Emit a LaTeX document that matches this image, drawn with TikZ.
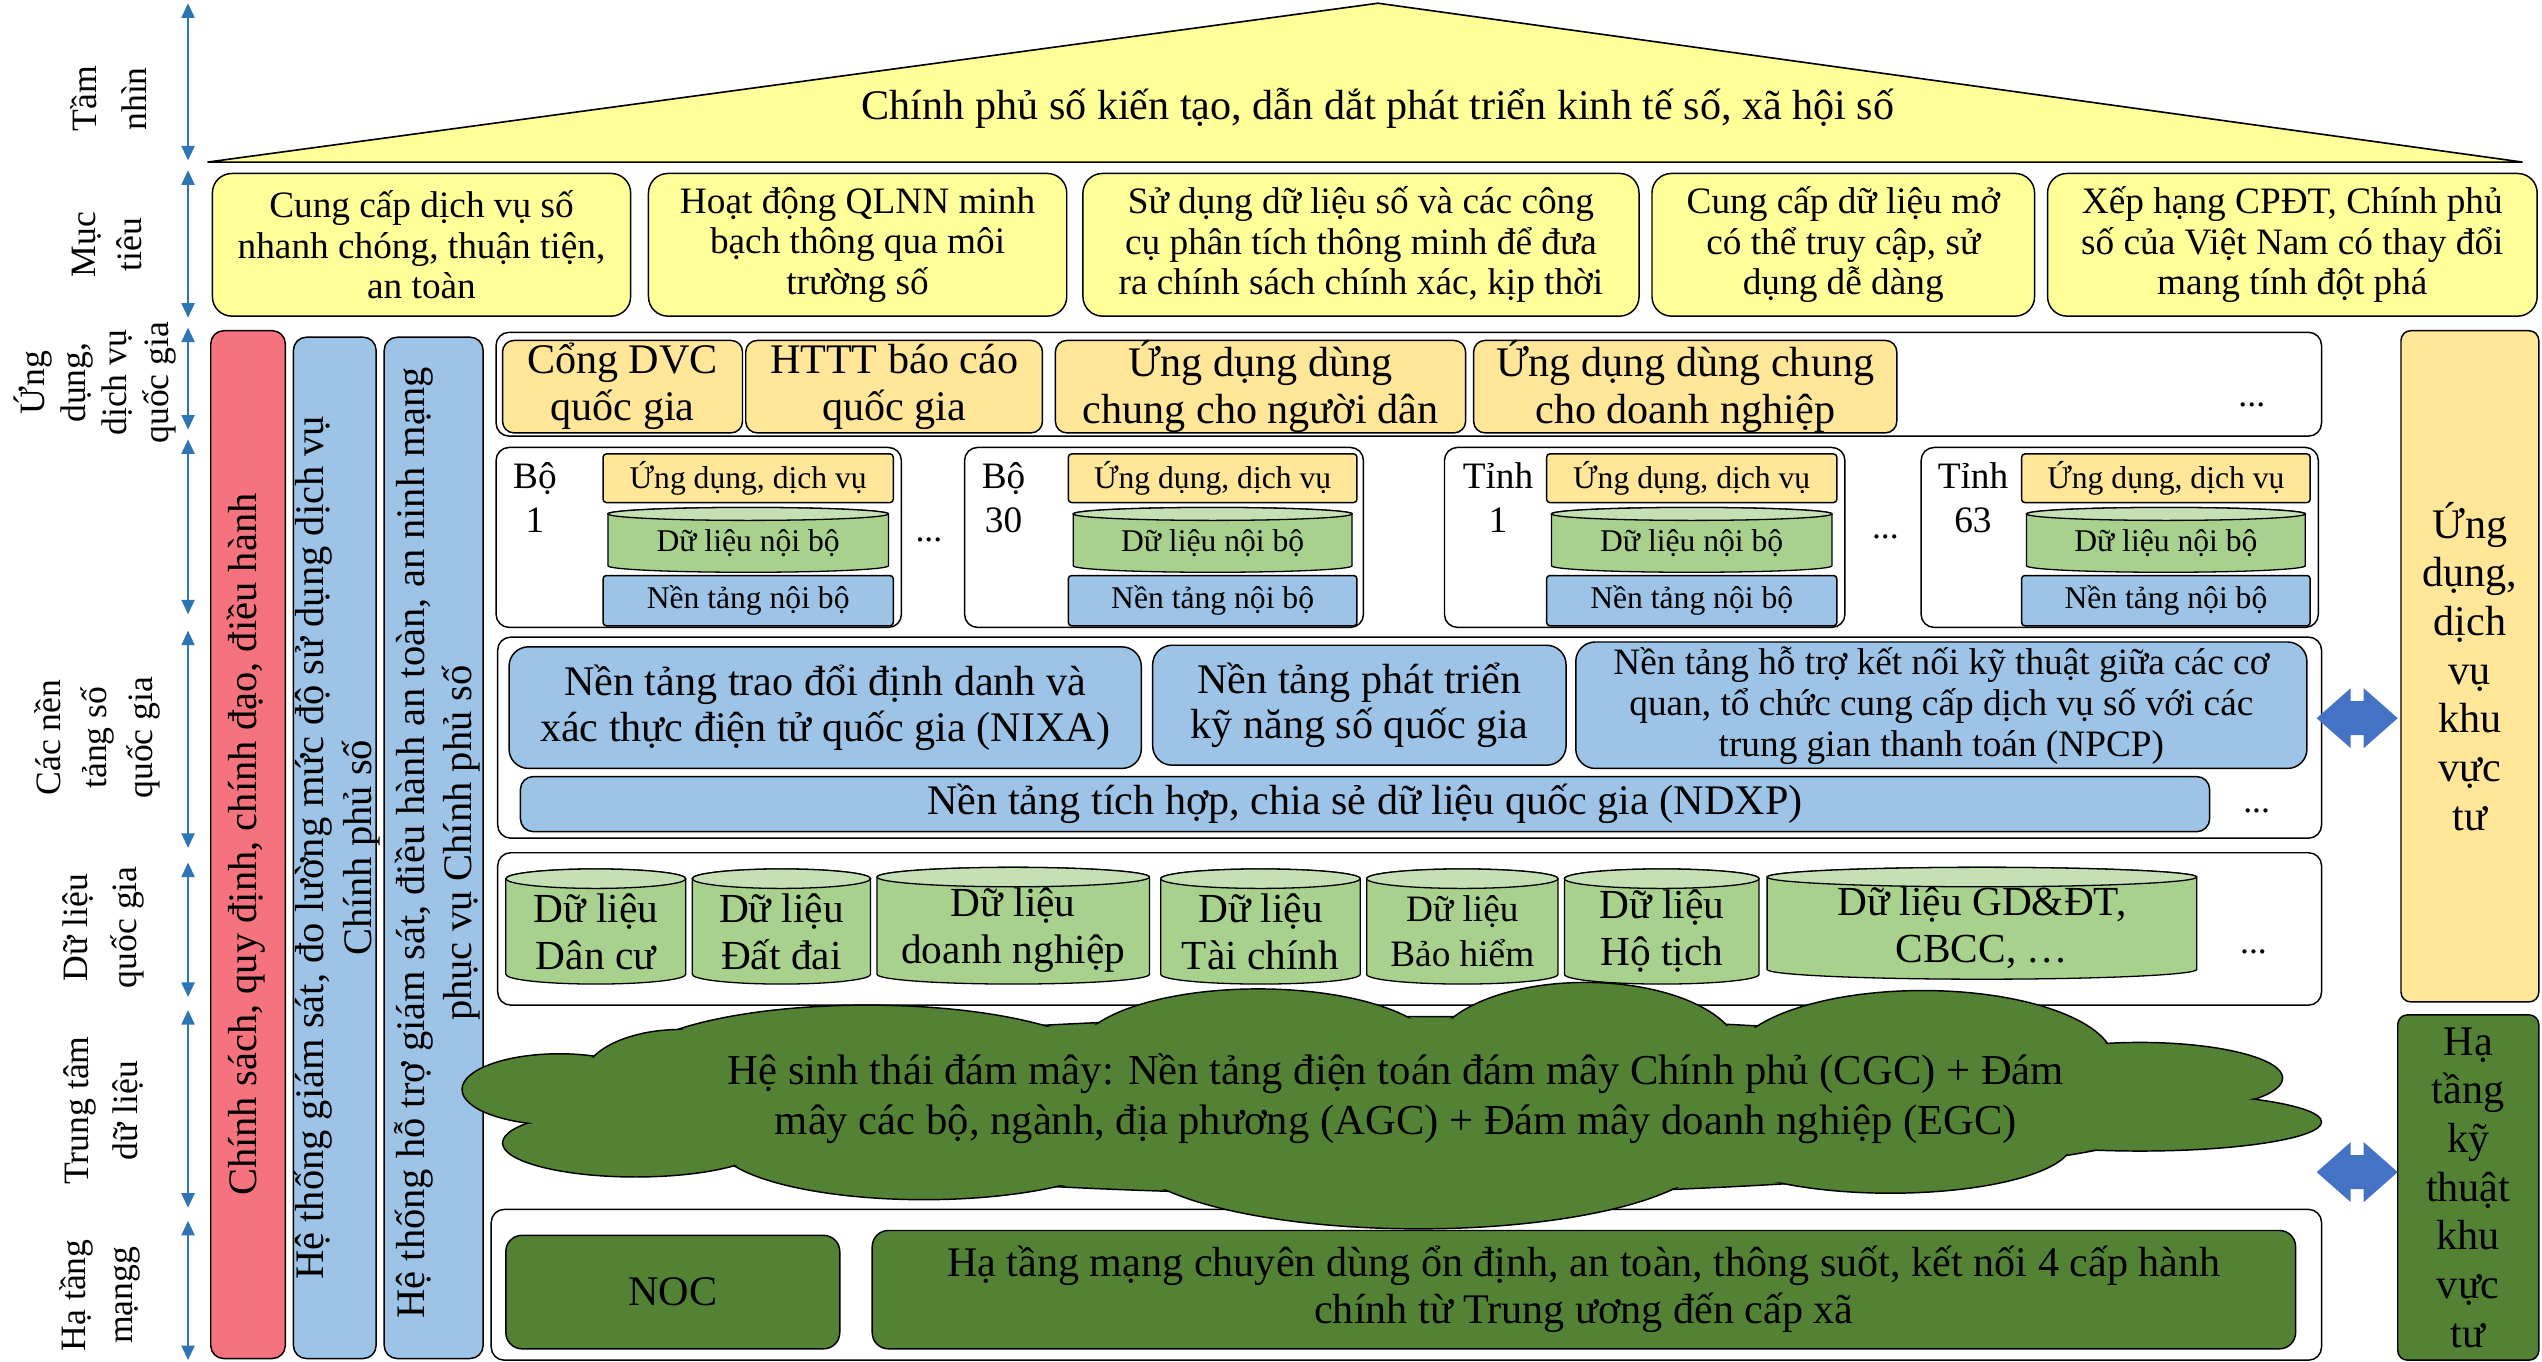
\documentclass[tikz,border=0pt]{standalone}
\usepackage{fontspec}
\setmainfont{Liberation Serif}
\usetikzlibrary{arrows.meta}
\definecolor{roofY}{HTML}{FFFF99}
\definecolor{redbar}{HTML}{F4737E}
\definecolor{lblue}{HTML}{9DC3E6}
\definecolor{lorange}{HTML}{FFE699}
\definecolor{cylG}{HTML}{A9D18E}
\definecolor{cylT}{HTML}{C5E0B4}
\definecolor{dkG}{HTML}{548235}
\definecolor{arrB}{HTML}{4472C4}
\definecolor{lblB}{HTML}{2E75B6}
\newcommand\fsz[2]{\fontsize{#1}{#2}\selectfont}
% style, x1, y1, x2, y2, name, text
\newcommand\bx[7]{\node[#1, minimum width={(#4)-(#2)}, minimum height={(#5)-(#3)}] (#6) at ({((#2)+(#4))/2},{((#3)+(#5))/2}) {#7};}
% x1, ytop, x2, ybot, ry, name, font, text
\newcommand\cyl[8]{%
 \path[draw=black, line width=0.8pt, fill=cylG] (#1,{#2+#5}) -- (#1,{#4-#5}) arc[start angle=180, end angle=0, x radius={((#3)-(#1))/2}, y radius=#5] -- (#3,{#2+#5}) arc[start angle=0, end angle=-180, x radius={((#3)-(#1))/2}, y radius=#5] -- cycle;
 \path[draw=black, line width=0.8pt, fill=cylT] ({((#1)+(#3))/2},{#2+#5}) ellipse[x radius={((#3)-(#1))/2}, y radius=#5];
 \node[inner sep=0pt, align=center, font=#7] (#6) at ({((#1)+(#3))/2},{((#2)+(#4))/2+(#5)/2}) {#8};}
% outer x1, outer x2, inner x1, inner x2, label x, name, label
\newcommand\orgunit[7]{%
 \bx{wbox}{#1}{276}{#2}{387}{#6o}{}
 \node[txtnode, font=\fsz{23}{27}] (#6l) at (#5,307) {#7};
 \bx{sobox}{#3}{280}{#4}{310}{#6a}{Ứng dụng, dịch vụ}
 \cyl{#3+3}{313}{#4-3}{353}{4}{#6d}{\fsz{19.5}{22}}{Dữ liệu nội bộ}
 \bx{sbbox}{#3}{355}{#4}{386}{#6n}{Nền tảng nội bộ}}
\begin{document}
\begin{tikzpicture}[x=1pt, y=1pt, yscale=-1,
 bxbase/.style={inner sep=0pt, outer sep=0pt, align=center, line width=0.9pt, draw=black},
 goalbox/.style={bxbase, fill=roofY, rounded corners=12pt, font=\fsz{23}{25}},
 vbar/.style={bxbase, rounded corners=8pt},
 wbox/.style={bxbase, fill=white, rounded corners=8pt},
 obox/.style={bxbase, fill=lorange, rounded corners=7pt, font=\fsz{26}{29}},
 sobox/.style={bxbase, fill=lorange, rounded corners=2pt, font=\fsz{19.5}{22}},
 sbbox/.style={bxbase, fill=lblue, rounded corners=2pt, font=\fsz{19.5}{22}},
 pbox/.style={bxbase, fill=lblue, rounded corners=12pt, font=\fsz{26}{28}},
 gbox/.style={bxbase, fill=dkG, rounded corners=10pt, font=\fsz{26}{29}},
 lbltext/.style={inner sep=0pt, align=center, rotate=90},
 txtnode/.style={inner sep=0pt, align=center},
 lblarrow/.style={draw=lblB, line width=1.4pt, <->, >={Triangle[width=8pt,length=9pt]}},
 ellip/.style={inner sep=0pt, font=\fsz{22}{24}}]
\useasboundingbox (0,0) rectangle (1568,840);
\fill[white] (0,0) rectangle (1568,840);

% left labels
\node[lbltext, font=\fsz{22}{31}] (Ltam) at (67,61) {Tầm\\nhìn};
\node[lbltext, font=\fsz{22}{28}] (Lmuc) at (66,151) {Mục\\tiêu};
\node[lbltext, font=\fsz{22}{25.4}] (Lung) at (58.5,236) {Ứng\\dụng,\\dịch vụ\\quốc gia};
\node[lbltext, font=\fsz{22}{28.5}] (Lcac) at (60,455) {Các nền\\tảng số\\quốc gia};
\node[lbltext, font=\fsz{22}{30}] (Ldl) at (64,572) {Dữ liệu\\quốc gia};
\node[lbltext, font=\fsz{22}{30}] (Ltt) at (64,685) {Trung tâm\\dữ liệu};
\node[lbltext, font=\fsz{22}{29}] (Lht) at (61.5,799) {Hạ tầng\\mạngg};

\foreach \i/\a/\b in {1/2/99, 2/105/196, 3/202/265, 4/271/379, 5/389/523, 6/532/615, 7/623/745, 8/753/839}{
 \coordinate (at\i) at (116,\a); \coordinate (ab\i) at (116,\b);
 \draw[lblarrow] (at\i) -- (ab\i);}

% roof
\path[draw=black, line width=1pt, fill=roofY] (128,100) -- (850,2) -- (1556,100) -- cycle;
\node[txtnode, font=\fsz{26}{30}] (roof) at (850,67) {Chính phủ số kiến tạo, dẫn dắt phát triển kinh tế số, xã hội số};

% goals
\bx{goalbox}{131}{107}{389}{195}{g1}{Cung cấp dịch vụ số\\nhanh chóng, thuận tiện,\\an toàn}
\bx{goalbox}{400}{107}{658}{195}{g2}{Hoạt động QLNN minh\\bạch thông qua môi\\trường số}
\bx{goalbox}{668}{107}{1011}{195}{g3}{Sử dụng dữ liệu số và các công\\cụ phân tích thông minh để đưa\\ra chính sách chính xác, kịp thời}
\bx{goalbox}{1019}{107}{1255}{195}{g4}{Cung cấp dữ liệu mở\\có thể truy cập, sử\\dụng dễ dàng}
\bx{goalbox}{1263}{107}{1565}{195}{g5}{Xếp hạng CPĐT, Chính phủ\\số của Việt Nam có thay đổi\\mang tính đột phá}

% vertical bars
\bx{vbar, fill=redbar}{130}{204}{176}{838}{pol}{}
\bx{vbar, fill=lblue}{181}{208}{232}{838}{mon}{}
\bx{vbar, fill=lblue}{237}{208}{298}{838}{secb}{}
\node[txtnode, rotate=90, font=\fsz{25}{30}] (polT) at (152,521) {Chính sách, quy định, chính đạo, điều hành};
\node[txtnode, rotate=90, font=\fsz{25}{30}] (monT) at (208,523) {Hệ thống giám sát, đo lường mức độ sử dụng dịch vụ\\Chính phủ số};
\node[txtnode, rotate=90, font=\fsz{25}{29}] (secT) at (269.5,520) {Hệ thống hỗ trợ giám sát, điều hành an toàn, an ninh mạng\\phục vụ Chính phủ số};

% row 1
\bx{wbox}{306}{205}{1432}{269}{r1}{}
\bx{obox}{310}{210}{458}{267}{a1}{Cổng DVC\\quốc gia}
\bx{obox}{460}{210}{643}{267}{a2}{HTTT báo cáo\\quốc gia}
\bx{obox}{651}{210}{904}{267}{a3}{Ứng dụng dùng\\chung cho người dân}
\bx{obox}{909}{210}{1170}{267}{a4}{Ứng dụng dùng chung\\cho doanh nghiệp}
\node[ellip] (r1d) at (1389,250) {...};

% row 2
\orgunit{306}{556}{372}{551}{330}{u1}{Bộ\\1}
\orgunit{595}{841}{659}{837}{619}{u2}{Bộ\\30}
\orgunit{891}{1138}{954}{1133}{924}{u3}{Tỉnh\\1}
\orgunit{1185}{1430}{1247}{1425}{1217}{u4}{Tỉnh\\63}
\node[ellip] (r2d1) at (573,333) {...};
\node[ellip] (r2d2) at (1163,331) {...};

% row 3
\bx{wbox}{307}{393}{1432}{517}{r3}{}
\bx{pbox}{314}{399}{704}{474}{p1}{Nền tảng trao đổi định danh và\\xác thực điện tử quốc gia (NIXA)}
\bx{pbox}{711}{398}{966}{472}{p2}{Nền tảng phát triển\\kỹ năng số quốc gia}
\bx{pbox, font=\fsz{23}{25.3}}{972}{396}{1423}{474}{p3}{Nền tảng hỗ trợ kết nối kỹ thuật giữa các cơ\\quan, tổ chức cung cấp dịch vụ số với các\\trung gian thanh toán (NPCP)}
\bx{pbox, rounded corners=8pt}{321}{479}{1363}{513}{p4}{Nền tảng tích hợp, chia sẻ dữ liệu quốc gia (NDXP)}
\node[ellip] (r3d) at (1392,500) {...};

% row 4
\bx{wbox}{307}{526}{1432}{620}{r4}{}
\cyl{312}{536}{423}{607}{6}{d1}{\fsz{25.5}{29}}{Dữ liệu\\Dân cư}
\cyl{427}{536}{537}{607}{6}{d2}{\fsz{25.5}{29}}{Dữ liệu\\Đất đai}
\cyl{541}{535}{709}{607}{6}{d3}{\fsz{25.5}{29}}{Dữ liệu\\doanh nghiệp}
\cyl{716}{536}{839}{607}{6}{d4}{\fsz{25.5}{29}}{Dữ liệu\\Tài chính}
\cyl{843}{536}{961}{607}{6}{d5}{\fsz{23}{28}}{Dữ liệu\\Bảo hiểm}
\cyl{965}{536}{1085}{607}{6}{d6}{\fsz{25.5}{29}}{Dữ liệu\\Hộ tịch}
\cyl{1090}{535}{1355}{604}{6}{d7}{\fsz{25.5}{29}}{Dữ liệu GD\&ĐT,\\CBCC, …}
\node[ellip] (r4d) at (1390,587) {...};

% network row
\bx{wbox}{303}{746}{1432}{839}{r6}{}
\bx{gbox}{312}{762}{518}{832}{noc}{NOC}
\bx{gbox}{538}{759}{1416}{832}{net}{Hạ tầng mạng chuyên dùng ổn định, an toàn, thông suốt, kết nối 4 cấp hành\\chính từ Trung ương đến cấp xã}

% cloud
\def\cloudlobes{860/682/500/55, 535/660/150/40, 776/650/112/40, 978/650/95/44, 1186/655/118/44, 1320/665/88/22, 1320/692/112/18, 1166/705/112/31, 875/710/180/48, 570/705/128/35, 392/705/82/21, 345/672/60/22, 420/665/60/30}
\foreach \cx/\cy/\rx/\ry in \cloudlobes {\draw[line width=0.9pt, fill=dkG] (\cx,\cy) ellipse[x radius=\rx, y radius=\ry];}
\foreach \cx/\cy/\rx/\ry in \cloudlobes {\fill[dkG] (\cx,\cy) ellipse[x radius=\rx-1.2, y radius=\ry-1.2];}
\node[txtnode, font=\fsz{26.3}{31}] (cloudT) at (861,677.5) {Hệ sinh thái đám mây: Nền tảng điện toán đám mây Chính phủ (CGC) + Đám\\mây các bộ, ngành, địa phương (AGC) + Đám mây doanh nghiệp (EGC)};

% right boxes
\bx{obox, rounded corners=6pt, font=\fsz{26}{30}}{1481}{204}{1566}{618}{pvt}{Ứng\\dụng,\\dịch\\vụ\\khu\\vực\\tư}
\bx{gbox, rounded corners=6pt, font=\fsz{26}{30}}{1479}{626}{1566}{839}{hpvt}{Hạ\\tầng\\kỹ\\thuật\\khu\\vực\\tư}

% double arrows
\foreach \yc in {443,723}{
 \fill[arrB] (1429,\yc) -- (1450,\yc-18.5) -- (1450,\yc-10.5) -- (1458,\yc-10.5) -- (1458,\yc-18.5) -- (1479,\yc) -- (1458,\yc+18.5) -- (1458,\yc+10.5) -- (1450,\yc+10.5) -- (1450,\yc+18.5) -- cycle;}
\end{tikzpicture}
\end{document}
